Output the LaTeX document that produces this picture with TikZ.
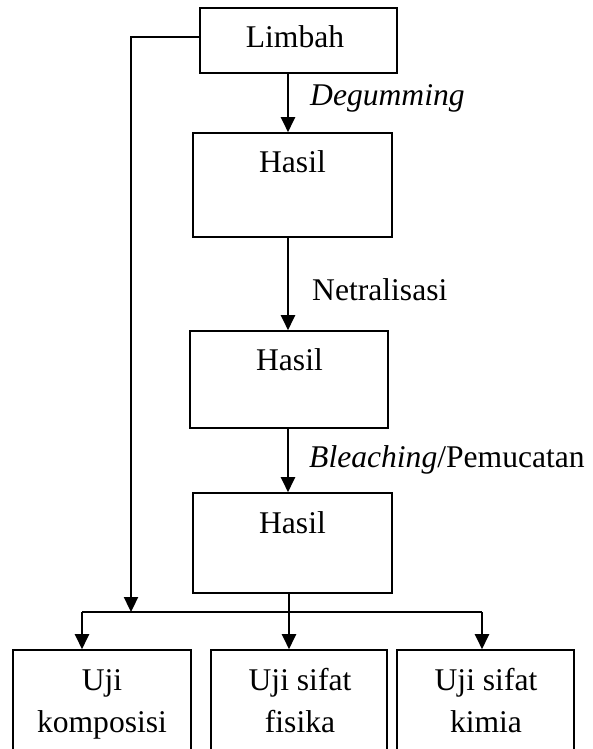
\documentclass[tikz,border=0pt]{standalone}
\usepackage{fontspec}
\setmainfont{Liberation Serif}
\usetikzlibrary{arrows.meta}
\begin{document}
\begin{tikzpicture}[x=1pt,y=-1pt,
  box/.style={draw, line width=1.6pt, inner sep=0pt},
  conn/.style={line width=2.3pt},
  arr/.style={conn, -{Triangle[width=14pt,length=15pt]}},
  txt/.style={font=\fontsize{31.6}{42}\selectfont, inner sep=0pt, anchor=base},
  side/.style={txt, anchor=base west}]
\useasboundingbox (0,0) rectangle (592,749);
% boxes
\node[box, minimum width=197pt, minimum height=65pt] (limbah) at (298.5,40.5) {};
\node[box, minimum width=199pt, minimum height=104pt] (hasil1) at (292.5,185) {};
\node[box, minimum width=198pt, minimum height=97pt] (hasil2) at (289,379.5) {};
\node[box, minimum width=199pt, minimum height=100pt] (hasil3) at (292.5,543) {};
\node[box, minimum width=178pt, minimum height=106pt] (uji1) at (102,703) {};
\node[box, minimum width=176pt, minimum height=106pt] (uji2) at (299,703) {};
\node[box, minimum width=177pt, minimum height=106pt] (uji3) at (485.5,703) {};
% texts in boxes
\node[txt] (tlimbah) at (295,48) {Limbah};
\node[txt] (thasil1) at (292.5,172) {Hasil};
\node[txt] (thasil2) at (289.5,370) {Hasil};
\node[txt] (thasil3) at (292.5,533) {Hasil};
\node[txt] (tuji1a) at (102,690) {Uji};
\node[txt] (tuji1b) at (102,732) {komposisi};
\node[txt] (tuji2a) at (300,690) {Uji sifat};
\node[txt] (tuji2b) at (300,732) {fisika};
\node[txt] (tuji3a) at (486,690) {Uji sifat};
\node[txt] (tuji3b) at (486,732) {kimia};
% side labels
\node[side] (ldeg) at (310,106) {\itshape Degumming};
\node[side] (lnet) at (312,300) {Netralisasi};
\node[side] (lble) at (309,467) {\textit{Bleaching}/Pemucatan};
% helper coordinates
\coordinate (cx) at (288,0);
\coordinate (cm) at (289,0);
\coordinate (lj) at (131,37);
\coordinate (busL) at (82,612);
\coordinate (busR) at (482,612);
% connectors
\draw[arr] (limbah.south -| cx) -- (hasil1.north -| cx);
\draw[arr] (hasil1.south -| cx) -- (hasil2.north -| cx);
\draw[arr] (hasil2.south -| cx) -- (hasil3.north -| cx);
\draw[arr] (hasil3.south -| cm) -- (uji2.north -| cm);
\draw[conn] (busL) -- (busR);
\draw[arr] (busL) -- (uji1.north -| busL);
\draw[arr] (busR) -- (uji3.north -| busR);
\draw[arr] (limbah.west |- lj) -- (lj) -- (lj |- busL);
\end{tikzpicture}
\end{document}
